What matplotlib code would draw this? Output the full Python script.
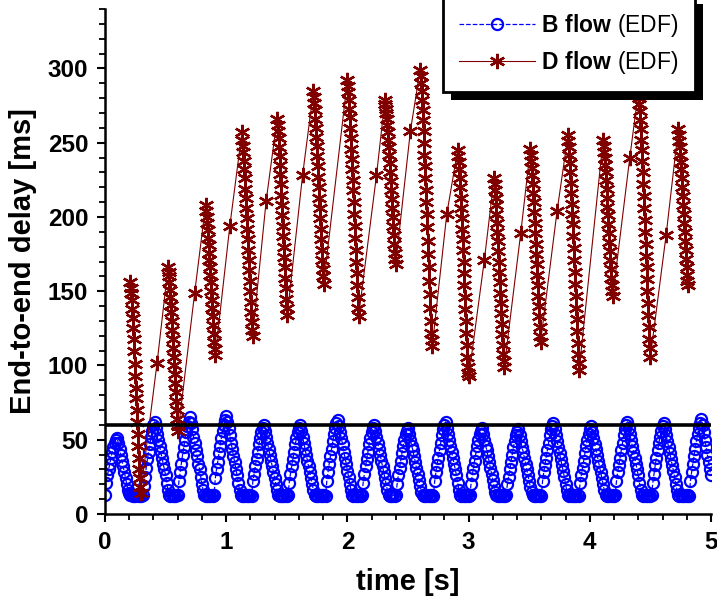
import numpy as np
import matplotlib
matplotlib.use("Agg")
import matplotlib.pyplot as plt
from matplotlib.patches import Rectangle

plt.rcParams['font.family'] = ['Liberation Sans', 'DejaVu Sans']
plt.rcParams['mathtext.fontset'] = 'custom'
plt.rcParams['mathtext.rm'] = 'Liberation Sans'
plt.rcParams['mathtext.bf'] = 'Liberation Sans:bold'

# B flow: sampled every 10 ms from t=0, one row per rise/fall cycle (ends at the peak)
b_dt = 0.01
b_cycles = [
    [13, 21, 26, 30, 34, 38, 42, 45, 48, 50, 51],
    [48, 44, 40, 36, 32, 28, 24, 20, 16, 14, 13, 13, 12, 13, 12, 13, 13, 12, 13, 12, 13,
     19, 25, 31, 37, 42, 47, 52, 56, 60, 62],
    [58, 54, 50, 46, 42, 38, 34, 30, 26, 21, 16, 13, 12, 13, 12, 13, 12, 13, 13,
     22, 28, 34, 40, 45, 50, 55, 59, 62, 65],
    [61, 57, 52, 48, 43, 39, 34, 30, 25, 20, 16, 13, 12, 13, 12, 13, 12, 13, 12, 13,
     24, 30, 35, 41, 46, 51, 56, 60, 63, 66],
    [62, 58, 53, 48, 44, 39, 35, 30, 26, 21, 16, 13, 12, 13, 12, 13, 12, 13, 12, 13, 12,
     22, 27, 32, 37, 42, 47, 51, 55, 58, 60],
    [56, 52, 48, 44, 40, 36, 32, 28, 24, 20, 16, 13, 12, 13, 12, 13, 12, 13, 12, 13,
     21, 27, 32, 37, 42, 47, 51, 55, 58, 60],
    [56, 52, 48, 44, 40, 36, 32, 28, 24, 20, 16, 13, 12, 13, 12, 13, 12, 13, 12, 13, 12,
     22, 28, 34, 39, 44, 49, 54, 58, 61, 63],
    [59, 55, 51, 47, 42, 38, 34, 29, 25, 20, 16, 13, 12, 13, 12, 13, 12, 13, 12, 13,
     21, 27, 32, 37, 42, 47, 51, 55, 58, 60],
    [56, 52, 48, 44, 40, 36, 32, 28, 24, 20, 16, 13, 12, 13, 12, 13, 12, 13,
     20, 26, 31, 36, 41, 46, 50, 54, 56, 58],
    [54, 50, 46, 43, 39, 35, 31, 27, 23, 19, 15, 13, 12, 13, 12, 13, 12, 13, 12, 13, 12,
     22, 28, 33, 38, 43, 48, 53, 57, 60, 62],
    [58, 54, 50, 46, 42, 38, 34, 30, 26, 21, 16, 13, 12, 13, 12, 13, 12, 13, 12, 13,
     20, 26, 31, 36, 41, 46, 50, 54, 56, 58],
    [54, 50, 46, 43, 39, 35, 31, 27, 23, 19, 15, 13, 12, 13, 12, 13, 12, 13, 12, 13,
     20, 25, 30, 35, 40, 45, 49, 53, 55, 57],
    [53, 49, 45, 42, 38, 34, 30, 26, 22, 18, 15, 13, 12, 13, 12, 13, 12, 13, 12,
     22, 28, 33, 38, 43, 48, 53, 57, 59, 61],
    [57, 53, 49, 45, 41, 37, 33, 29, 25, 20, 16, 13, 12, 13, 12, 13, 12, 13, 12, 13, 12,
     21, 26, 31, 36, 41, 46, 50, 54, 57, 59],
    [55, 51, 47, 44, 40, 36, 32, 28, 24, 20, 16, 13, 12, 13, 12, 13, 12, 13, 12, 13,
     22, 28, 33, 38, 43, 48, 53, 57, 60, 62],
    [58, 54, 50, 46, 42, 38, 34, 30, 26, 21, 16, 13, 12, 13, 12, 13, 12, 13, 12, 13,
     21, 27, 33, 38, 43, 48, 52, 56, 59, 61],
    [57, 53, 49, 45, 41, 37, 33, 29, 25, 20, 16, 13, 12, 13, 12, 13, 12, 13, 12, 13, 12,
     22, 28, 34, 39, 44, 49, 54, 58, 61, 64],
    [60, 55, 50, 45, 40, 35, 30, 26],
]

# D flow: dense columns (sampled every 4 ms from the column start) and single jump points
d_dt = 0.004
d_col_start = [0.21, 0.52, 0.83, 1.13, 1.42, 1.72, 2.00, 2.31,
               2.60, 2.91, 3.21, 3.51, 3.82, 4.11, 4.40, 4.73]
d_cols = [
    [156, 152, 149, 144, 138, 132, 125, 118, 110, 101, 93, 85, 78, 70, 62, 54, 46, 38, 30, 24, 18, 14],
    [166, 163, 160, 156, 151, 146, 141, 136, 130, 124, 118, 112, 106, 100, 94, 88, 82, 76, 70, 64, 59, 56],
    [208, 204, 200, 196, 191, 186, 181, 176, 171, 166, 161, 156, 150, 144, 139, 133, 127, 121, 116, 111, 107],
    [257, 252, 248, 244, 238, 232, 226, 219, 213, 206, 199, 192, 185, 178, 171, 164, 157, 150, 143, 136, 129, 124, 120],
    [266, 262, 258, 253, 247, 241, 235, 229, 222, 215, 208, 201, 194, 187, 180, 173, 166, 159, 152, 145, 139, 134],
    [285, 281, 277, 272, 266, 260, 254, 248, 241, 234, 227, 220, 213, 206, 199, 192, 185, 178, 171, 165, 160, 155],
    [292, 288, 284, 279, 273, 267, 260, 253, 246, 239, 232, 225, 218, 210, 202, 194, 186, 178, 170, 162, 154, 146, 139, 133],
    [279, 276, 273, 270, 266, 262, 257, 252, 247, 242, 236, 230, 224, 218, 212, 206, 200, 194, 188, 182, 176, 172, 168],
    [299, 295, 290, 285, 279, 272, 265, 258, 250, 242, 234, 226, 218, 210, 202, 193, 184, 175, 166, 157, 148, 139, 130, 122, 117, 113],
    [245, 241, 237, 232, 226, 220, 213, 206, 199, 192, 185, 178, 170, 162, 154, 146, 138, 130, 122, 114, 106, 99, 95, 93],
    [226, 222, 218, 213, 208, 202, 196, 190, 184, 177, 170, 163, 156, 149, 142, 135, 128, 121, 114, 108, 103, 99],
    [246, 242, 238, 233, 228, 222, 216, 210, 203, 196, 189, 182, 175, 168, 161, 154, 147, 140, 133, 126, 120, 116],
    [255, 251, 247, 242, 236, 230, 223, 216, 209, 202, 195, 187, 179, 171, 163, 155, 147, 139, 131, 123, 115, 108, 102, 97],
    [252, 248, 244, 240, 235, 230, 225, 219, 213, 207, 201, 195, 189, 183, 177, 171, 165, 159, 154, 150, 147],
    [284, 280, 276, 271, 265, 259, 252, 245, 238, 230, 222, 214, 206, 198, 190, 182, 174, 166, 158, 150, 142, 134, 126, 118, 112, 106],
    [259, 255, 251, 247, 242, 237, 232, 226, 220, 214, 208, 202, 196, 190, 184, 178, 172, 166, 161, 157, 154],
]
d_jump_t = [0.43, 0.74, 1.03, 1.33, 1.63, 2.24, 2.52, 2.82, 3.13, 3.43, 3.73, 4.33, 4.63]
d_jump_v = [102, 149, 194, 211, 228, 228, 258, 202, 171, 189, 204, 240, 188]

deadline = 60

b_delay = np.concatenate([np.array(c, float) for c in b_cycles])
b_time = np.arange(len(b_delay)) * b_dt

d_t, d_v = list(d_jump_t), list(d_jump_v)
for t0, col in zip(d_col_start, d_cols):
    d_t += list(t0 + np.arange(len(col)) * d_dt)
    d_v += col
order = np.argsort(d_t)
d_time = np.array(d_t)[order]
d_delay = np.array(d_v, float)[order]

fig = plt.figure(figsize=(7.17, 5.97), dpi=100)
ax = fig.add_axes([105 / 717, 83 / 597, 606 / 717, 505 / 597])

ax.plot(b_time, b_delay, color='#0000ff', linestyle='--', linewidth=0.9,
        marker='o', markersize=8, markerfacecolor='none', markeredgewidth=1.6,
        label=r'$\mathbf{B\ flow}$ (EDF)')
ax.plot(d_time, d_delay, color='#800000', linestyle='-', linewidth=0.8,
        marker=(6, 2, 0), markersize=11, markeredgewidth=1.7,
        label=r'$\mathbf{D\ flow}$ (EDF)')
ax.axhline(deadline, color='black', linewidth=2.6, zorder=3)

ax.set_xlim(0, 5)
ax.set_ylim(0, 340)
ax.set_xticks(np.arange(0, 5.01, 1))
ax.set_xticks(np.arange(0, 5.01, 0.2), minor=True)
ax.set_yticks(np.arange(0, 301, 50))
ax.set_yticks(np.arange(0, 341, 10), minor=True)

for s in ['top', 'right']:
    ax.spines[s].set_visible(False)
for s in ['left', 'bottom']:
    ax.spines[s].set_linewidth(1.8)

ax.tick_params(which='major', length=6, width=1.5, labelsize=17.5, pad=6)
ax.tick_params(which='minor', length=4, width=1.3)
for lab in ax.get_xticklabels() + ax.get_yticklabels():
    lab.set_fontweight('bold')

ax.set_xlabel('time [s]', fontsize=21, fontweight='bold', labelpad=10)
ax.set_ylabel('End-to-end delay [ms]', fontsize=21, fontweight='bold', labelpad=8)

leg = fig.legend(loc='upper right', bbox_to_anchor=(695 / 717, 1 + 4 / 597), borderaxespad=0,
                 fontsize=16.5, frameon=True, fancybox=False, edgecolor='black',
                 framealpha=1, handlelength=3.3, borderpad=0.7, labelspacing=0.42,
                 handletextpad=0.3)
leg.get_frame().set_linewidth(2)
leg.set_zorder(6)

fig.canvas.draw()
bb = leg.get_frame().get_window_extent().transformed(fig.transFigure.inverted())
dx, dy = 8 / 717, 8 / 597
fig.patches.append(Rectangle((bb.x0 + dx, bb.y0 - dy), bb.width, bb.height,
                             transform=fig.transFigure, facecolor='black',
                             edgecolor='none', zorder=5))

fig.savefig('out.png', dpi=100)
